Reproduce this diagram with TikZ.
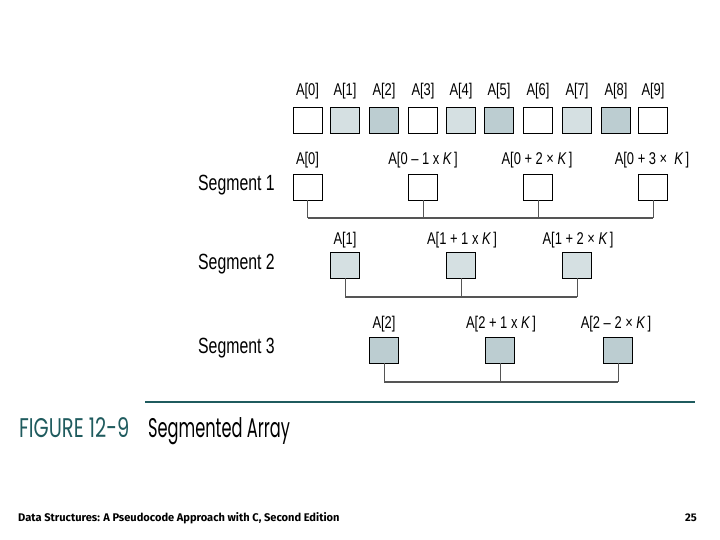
\documentclass[tikz,border=0pt]{standalone}
\usepackage{fontspec}
\setmainfont{Liberation Sans}
\newfontfamily\figfont{Poppins}
\newfontfamily\footfont{Fira Sans}
\definecolor{cwhite}{HTML}{FFFFFF}
\definecolor{clight}{HTML}{D5E0E2}
\definecolor{cmed}{HTML}{BCCDD1}
\definecolor{teal}{HTML}{1F5B5E}
\definecolor{linegray}{HTML}{555555}
\begin{document}
\begin{tikzpicture}[x=1pt,y=-1pt,
  cell/.style={draw=black, line width=0.9pt, minimum width=29pt, minimum height=26pt, inner sep=0pt},
  lab/.style={font=\fontsize{17}{17}\selectfont, xscale=0.76, inner sep=0pt},
  seglab/.style={font=\fontsize{22}{22}\selectfont, xscale=0.72, anchor=west, inner sep=0pt},
  conn/.style={draw=linegray, line width=0.9pt},
  bus/.style={draw=linegray, line width=1.3pt}]
\useasboundingbox (0,0) rectangle (720,540);
% top row
\foreach \i/\x/\c in {0/307.5/cwhite,1/345/clight,2/384/cmed,3/423/cwhite,4/461/clight,5/499/cmed,6/538/cwhite,7/577/clight,8/616/cmed,9/653/cwhite}{
  \node[cell, fill=\c] (t\i) at (\x,120) {};
  \node[lab] (tl\i) at (\x,91) {A[\i]};
}
% segment 1
\node[seglab] (seg1) at (198,185) {Segment 1};
\node[cell, fill=cwhite] (s1a) at (307.5,187) {};
\node[cell, fill=cwhite] (s1b) at (423,187) {};
\node[cell, fill=cwhite] (s1c) at (538,187) {};
\node[cell, fill=cwhite] (s1d) at (653,187) {};
\node[lab] (l1a) at (307.5,160) {A[0]};
\node[lab] (l1b) at (423,160) {A[0 – 1 x \textit{K}\,]};
\node[lab] (l1c) at (537,160) {A[0 + 2 × \textit{K}\,]};
\node[lab] (l1d) at (652,160) {A[0 + 3 ×\ \ \textit{K}\,]};
\coordinate (b1) at (0,218);
\draw[bus, line width=2pt] (s1a.south |- b1) -- (s1d.south |- b1);
\foreach \n in {s1a,s1b,s1c,s1d} \draw[conn] (\n.south) -- (\n.south |- b1);
% segment 2
\node[seglab] (seg2) at (198,264) {Segment 2};
\node[cell, fill=clight] (s2a) at (345,265) {};
\node[cell, fill=clight] (s2b) at (461,265) {};
\node[cell, fill=clight] (s2c) at (577,265) {};
\node[lab] (l2a) at (345,240) {A[1]};
\node[lab] (l2b) at (462,240) {A[1 + 1 x \textit{K}\,]};
\node[lab] (l2c) at (578,240) {A[1 + 2 × \textit{K}\,]};
\coordinate (b2) at (0,297);
\draw[bus] (s2a.south |- b2) -- (s2c.south |- b2);
\foreach \n in {s2a,s2b,s2c} \draw[conn] (\n.south) -- (\n.south |- b2);
% segment 3
\node[seglab] (seg3) at (198,348) {Segment 3};
\node[cell, fill=cmed] (s3a) at (384,350) {};
\node[cell, fill=cmed] (s3b) at (500,350) {};
\node[cell, fill=cmed] (s3c) at (618,350) {};
\node[lab] (l3a) at (384,324) {A[2]};
\node[lab] (l3b) at (501,324) {A[2 + 1 x \textit{K}\,]};
\node[lab] (l3c) at (616,324) {A[2 – 2 × \textit{K}\,]};
\coordinate (b3) at (0,382);
\draw[bus] (s3a.south |- b3) -- (s3c.south |- b3);
\foreach \n in {s3a,s3b,s3c} \draw[conn] (\n.south) -- (\n.south |- b3);
% caption
\coordinate (rl) at (145,402);
\coordinate (rr) at (695,402);
\draw[teal, line width=2.2pt] (rl) -- (rr);
\node[anchor=base west, inner sep=0pt, text=teal, font=\figfont\fontsize{27}{27}\selectfont, xscale=0.72] (fig) at (19,437) {FIGURE 12-9};
\node[anchor=base west, inner sep=0pt, font=\figfont\fontsize{27}{27}\selectfont, xscale=0.6] (figt) at (148,437) {Segmented Array};
% footer
\node[anchor=west, inner sep=0pt, font=\footfont\bfseries\fontsize{11.1}{11.1}\selectfont] (foot) at (18,518) {Data Structures: A Pseudocode Approach with C, Second Edition};
\node[anchor=east, inner sep=0pt, font=\footfont\bfseries\fontsize{11.1}{11.1}\selectfont] (page) at (697,518) {25};
\end{tikzpicture}
\end{document}
